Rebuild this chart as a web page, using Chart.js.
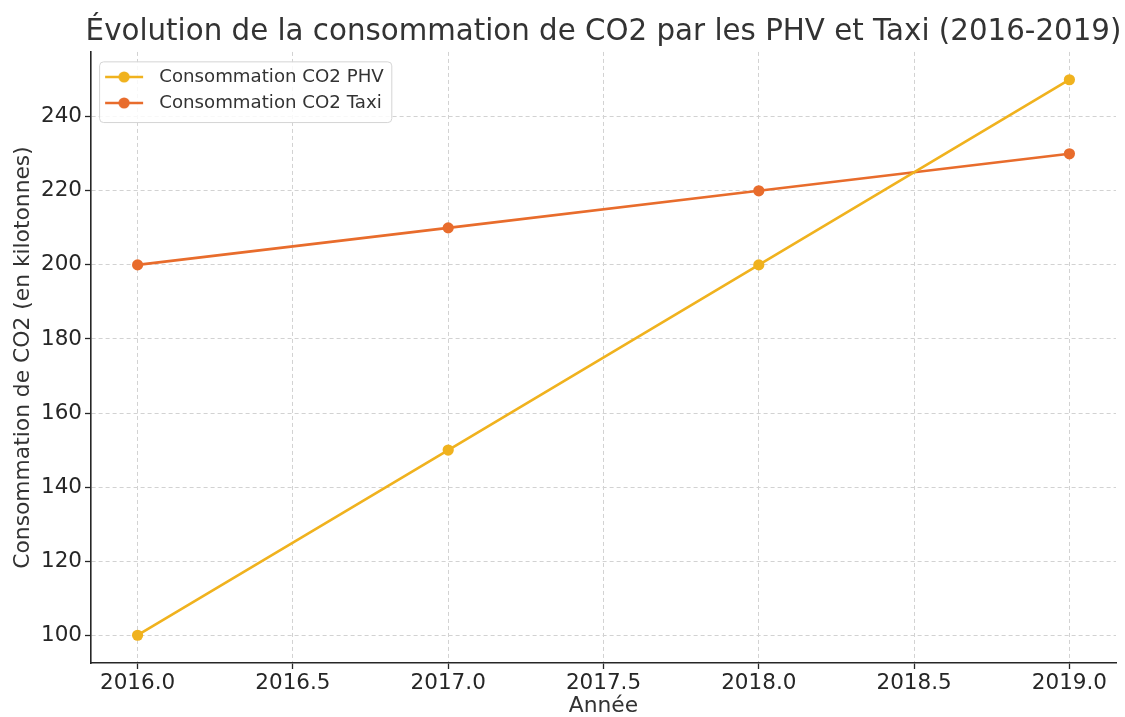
<!DOCTYPE html>
<html>
<head>
<meta charset="utf-8">
<script src="https://cdn.jsdelivr.net/npm/chart.js@4.4.1/dist/chart.umd.min.js"></script>
<style>
  html, body { margin: 0; padding: 0; background: #ffffff; }
  #wrap { width: 1125px; height: 717px; }
</style>
</head>
<body>
<div id="wrap"><canvas id="c" width="1125" height="717"></canvas></div>
<script>
// ---- data ----
const years = [2016, 2017, 2018, 2019];
const phvValues = [100, 150, 200, 250];
const taxiValues = [200, 210, 220, 230];
const seriesLabels = ['Consommation CO2 PHV', 'Consommation CO2 Taxi'];
const xTickValues = [2016.0, 2016.5, 2017.0, 2017.5, 2018.0, 2018.5, 2019.0];
const xTickLabels = ['2016.0', '2016.5', '2017.0', '2017.5', '2018.0', '2018.5', '2019.0'];
const yTickValues = [100, 120, 140, 160, 180, 200, 220, 240];
const yTickLabels = ['100', '120', '140', '160', '180', '200', '220', '240'];
const chartTitle = 'Évolution de la consommation de CO2 par les PHV et Taxi (2016-2019)';
const xAxisTitle = 'Année';
const yAxisTitle = 'Consommation de CO2 (en kilotonnes)';

// ---- styles ----
const colors = ['#F0B21E', '#E86C2C'];
const FONT = "'DejaVu Sans', 'Noto Sans', sans-serif";
const LEGEND_FONT = 18.2;

function makeLegendIcon(color) {
  const cv = document.createElement('canvas');
  cv.width = 40; cv.height = 14;
  const g = cv.getContext('2d');
  g.strokeStyle = color; g.lineWidth = 2.6;
  g.beginPath(); g.moveTo(1, 7); g.lineTo(39, 7); g.stroke();
  g.fillStyle = color;
  g.beginPath(); g.arc(20, 7, 5.6, 0, Math.PI * 2); g.fill();
  return cv;
}
const legendIcons = colors.map(makeLegendIcon);

const layoutTweaks = {
  id: 'layoutTweaks',
  afterLayout(chart) {
    const ca = chart.chartArea;
    // widen the title box so the text is not squeezed (centred on plot area)
    const tb = chart.titleBlock;
    if (tb) {
      tb.left = ca.left - 20;
      tb.right = ca.right + 20;
      tb.width = tb.right - tb.left;
    }
    const lg = chart.legend;
    if (!lg) return;
    lg.top = ca.top + 8.1;
    lg.bottom = ca.bottom;
    lg.left = ca.left - 0.7;
    lg.right = ca.right;
    if (!lg._framed) {
      const orig = lg.draw;
      lg.draw = function () {
        const ctx = this.ctx;
        const pad = this.options.labels.padding;
        const boxes = this.legendHitBoxes || [];
        let maxW = 0;
        boxes.forEach(b => { maxW = Math.max(maxW, b.width); });
        const x0 = this.left + pad + 1.5;
        const y0 = this.top + pad - 6;
        const x1 = this.left + pad + maxW + 8;
        const n = this.legendItems ? this.legendItems.length : 2;
        const y1 = this.top + pad + n * LEGEND_FONT + (n - 1) * pad + 10.5;
        ctx.save();
        ctx.beginPath();
        if (ctx.roundRect) ctx.roundRect(x0, y0, x1 - x0, y1 - y0, 4);
        else ctx.rect(x0, y0, x1 - x0, y1 - y0);
        ctx.fillStyle = 'rgba(255,255,255,0.85)';
        ctx.fill();
        ctx.strokeStyle = '#d4d4d4';
        ctx.lineWidth = 1;
        ctx.stroke();
        ctx.restore();
        orig.apply(this, arguments);
      };
      lg._framed = true;
    }
  }
};

const ctx = document.getElementById('c').getContext('2d');
new Chart(ctx, {
  type: 'line',
  data: {
    datasets: [
      {
        label: seriesLabels[0],
        data: years.map((yr, i) => ({ x: yr, y: phvValues[i] })),
        borderColor: colors[0],
        backgroundColor: colors[0],
        borderWidth: 2.6,
        pointRadius: 5.6,
        pointBorderWidth: 0,
        pointBackgroundColor: colors[0],
        tension: 0,
        fill: false
      },
      {
        label: seriesLabels[1],
        data: years.map((yr, i) => ({ x: yr, y: taxiValues[i] })),
        borderColor: colors[1],
        backgroundColor: colors[1],
        borderWidth: 2.6,
        pointRadius: 5.6,
        pointBorderWidth: 0,
        pointBackgroundColor: colors[1],
        tension: 0,
        fill: false
      }
    ]
  },
  options: {
    responsive: false,
    animation: false,
    layout: { padding: { left: 0, right: 9, top: 0, bottom: 0 } },
    plugins: {
      title: {
        display: true,
        text: chartTitle,
        fullSize: false,
        color: '#333333',
        font: { family: FONT, size: 29.3, weight: 'normal', lineHeight: 1.2 },
        padding: { top: 14.5, bottom: 2.3 }
      },
      legend: {
        display: true,
        position: 'chartArea',
        align: 'start',
        labels: {
          usePointStyle: true,
          pointStyleWidth: 52,
          padding: 7.8,
          color: '#333333',
          font: { family: FONT, size: LEGEND_FONT },
          generateLabels(chart) {
            return chart.data.datasets.map((ds, i) => ({
              text: ds.label,
              fillStyle: ds.borderColor,
              strokeStyle: ds.borderColor,
              lineWidth: 0,
              pointStyle: legendIcons[i],
              hidden: false,
              datasetIndex: i,
              fontColor: '#333333'
            }));
          }
        }
      },
      tooltip: { enabled: false }
    },
    scales: {
      x: {
        type: 'linear',
        min: 2015.85,
        max: 2019.15,
        afterBuildTicks(axis) { axis.ticks = xTickValues.map(v => ({ value: v })); },
        afterFit(axis) { axis.height = 54; },
        ticks: {
          callback: (v, i) => xTickLabels[i],
          color: '#262626',
          font: { family: FONT, size: 21.5 },
          padding: 2,
          maxRotation: 0,
          autoSkip: false
        },
        grid: {
          color: '#d2d2d2',
          lineWidth: 1,
          tickColor: '#262626',
          tickLength: 6,
          tickWidth: 1.3
        },
        border: { display: true, color: '#262626', width: 1.6, dash: [4, 3] },
        title: {
          display: true,
          text: xAxisTitle,
          color: '#333333',
          font: { family: FONT, size: 21.8, lineHeight: 1.0 },
          padding: { top: 0, bottom: 0 }
        }
      },
      y: {
        type: 'linear',
        min: 92.5,
        max: 257.5,
        afterBuildTicks(axis) { axis.ticks = yTickValues.map(v => ({ value: v })); },
        afterFit(axis) { axis.width = 91; },
        ticks: {
          callback: (v, i) => yTickLabels[i],
          color: '#262626',
          font: { family: FONT, size: 21.5 },
          padding: 3,
          autoSkip: false
        },
        grid: {
          color: '#d2d2d2',
          lineWidth: 1,
          tickColor: '#262626',
          tickLength: 6,
          tickWidth: 1.3
        },
        border: { display: true, color: '#262626', width: 1.6, dash: [4, 3] },
        title: {
          display: true,
          text: yAxisTitle,
          color: '#333333',
          font: { family: FONT, size: 21.8, lineHeight: 1.2 },
          padding: { top: 10, bottom: 0 }
        }
      }
    }
  },
  plugins: [layoutTweaks]
});
</script>
</body>
</html>
